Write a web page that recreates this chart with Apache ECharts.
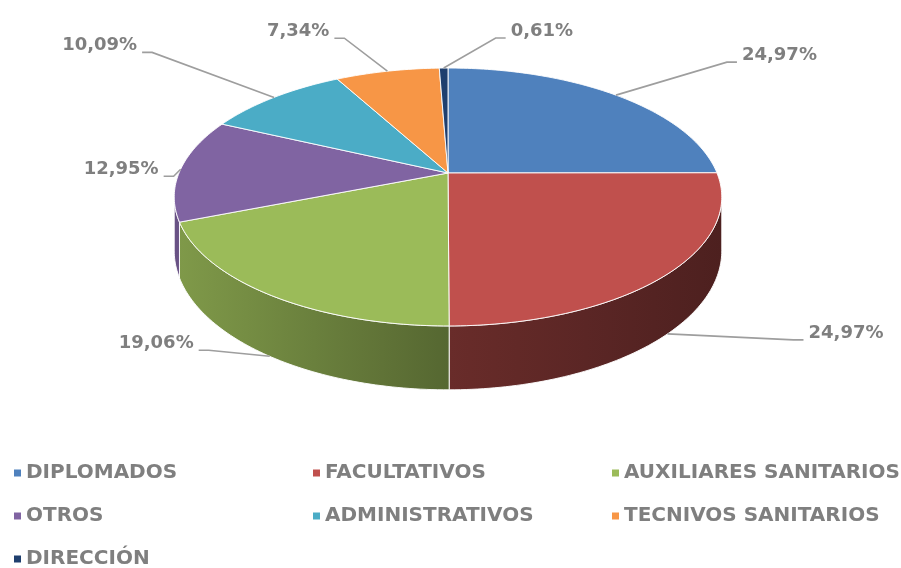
<!DOCTYPE html>
<html>
<head>
<meta charset="utf-8">
<script src="https://cdn.jsdelivr.net/npm/echarts@6/dist/echarts.min.js"></script>
<style>
  html, body { margin: 0; padding: 0; background: #fff; }
  #chart { width: 901px; height: 568px; }
</style>
</head>
<body>
<div id="chart"></div>
<script>
const categories = ['DIPLOMADOS', 'FACULTATIVOS', 'AUXILIARES SANITARIOS', 'OTROS', 'ADMINISTRATIVOS', 'TECNIVOS SANITARIOS', 'DIRECCIÓN'];
const shares = [24.97, 24.97, 19.06, 12.95, 10.09, 7.34, 0.61];
const colors = ['#4f81bd', '#c0504d', '#9bbb59', '#8064a2', '#4bacc6', '#f79646', '#1f3f6e'];

// leader line elbow, relative to the slice anchor (label layout only)
const labelLead = [[111, -33], [126, 6], [-61, -6], [-7, 7], [-122, -45], [-43, -33], [52, -30]];

// projection of the tilted disc
const CX = 448, CY = 173, A = 269, B = 124.5, K = 0.186, H = 52;
const SIL = Math.asin(K) * 180 / Math.PI; // side silhouette offset

const proj = (deg, depth) => {
    const r = deg * Math.PI / 180;
    const u = Math.sin(r), v = -Math.cos(r);
    const d = 1 - K * v;
    return [CX + A * u / d, CY + (B * v + depth) / d];
};

const total = shares.reduce((s, v) => s + v, 0);
const startDeg = [];
let acc = 0;
shares.forEach(v => { startDeg.push(acc / total * 360); acc += v; });

const hexRgb = h => [1, 3, 5].map(i => parseInt(h.slice(i, i + 2), 16));
// side shading gets darker from left to right
const shade = x => {
    if (x <= 180) return 0.82;
    if (x <= 448) return 0.82 - (x - 180) / 268 * 0.27;
    return Math.max(0.38, 0.55 - (x - 448) / 272 * 0.15);
};
const sideFill = (hex, x0, x1) => {
    const c = hexRgb(hex);
    const stops = [0, 0.25, 0.5, 0.75, 1].map(t => {
        const f = shade(x0 + t * (x1 - x0));
        return { offset: t, color: 'rgb(' + c.map(ch => Math.round(ch * f)).join(',') + ')' };
    });
    return new echarts.graphic.LinearGradient(0, 0, 1, 0, stops);
};

const arc = (a0, a1, depth) => {
    const pts = [];
    const n = Math.max(2, Math.ceil((a1 - a0) / 1));
    for (let i = 0; i <= n; i++) pts.push(proj(a0 + (a1 - a0) * i / n, depth));
    return pts;
};

const fmt = v => v.toFixed(2).replace('.', ',') + '%';

const renderItem = (params, api) => {
    const i = params.dataIndex;
    const val = api.value(0);
    const a0 = startDeg[i];
    const a1 = a0 + val / total * 360;
    const children = [];

    // outer side wall, visible part only
    const s0 = Math.max(a0, 90 + SIL), s1 = Math.min(a1, 270 - SIL);
    if (s1 > s0) {
        const top = arc(s0, s1, 0);
        const bot = arc(s0, s1, H).reverse();
        const pts = top.concat(bot);
        const xs = pts.map(p => p[0]);
        children.push({
            type: 'polygon', z2: 1,
            shape: { points: pts },
            style: { fill: sideFill(colors[i], Math.min(...xs), Math.max(...xs)), stroke: 'rgba(255,255,255,0.9)', lineWidth: 1 }
        });
    }

    // top face
    children.push({
        type: 'polygon', z2: 10,
        shape: { points: [[CX, CY]].concat(arc(a0, a1, 0)) },
        style: { fill: colors[i], stroke: 'rgba(255,255,255,0.9)', lineWidth: 1 }
    });

    // label anchor
    const mid = (a0 + a1) / 2;
    const v = -Math.cos(mid * Math.PI / 180);
    let anchor;
    if (v > 0.5) anchor = proj(mid, H);
    else if (v > 0) anchor = proj(mid < 180 ? 90 : 270, 0);
    else anchor = proj(mid, 0);
    const lead = labelLead[i];
    const dir = lead[0] < 0 ? -1 : 1;
    const elbow = [anchor[0] + lead[0], anchor[1] + lead[1]];
    const end = [elbow[0] + dir * 10, elbow[1]];
    children.push({
        type: 'polyline', z2: 20,
        shape: { points: [anchor, elbow, end] },
        style: { stroke: '#9e9e9e', lineWidth: 1.6, fill: null }
    });
    children.push({
        type: 'text', z2: 21,
        x: end[0] + dir * 5, y: end[1] - 7,
        style: {
            text: fmt(val), fill: '#7f7f7f',
            font: 'bold 18px "DejaVu Sans"',
            align: dir < 0 ? 'right' : 'left', verticalAlign: 'middle'
        }
    });
    return { type: 'group', children: children };
};

const chart = echarts.init(document.getElementById('chart'));
chart.setOption({
    animation: false,
    legend: {
        left: 14, top: 460, width: 890, padding: 0,
        icon: 'rect', itemWidth: 7, itemHeight: 7, itemGap: 17,
        selectedMode: false,
        textStyle: { width: 270, lineHeight: 26, fontSize: 20, fontWeight: 'bold', color: '#7f7f7f', fontFamily: 'DejaVu Sans' },
        data: categories
    },
    series: [
        {
            type: 'custom', coordinateSystem: 'none',
            renderItem: renderItem,
            data: shares.map(v => [v])
        },
        {
            // only feeds the legend
            type: 'pie', radius: [0, 0], silent: true,
            label: { show: false }, labelLine: { show: false },
            data: categories.map((c, i) => ({ name: c, value: shares[i], itemStyle: { color: colors[i] } }))
        }
    ]
});
</script>
</body>
</html>
